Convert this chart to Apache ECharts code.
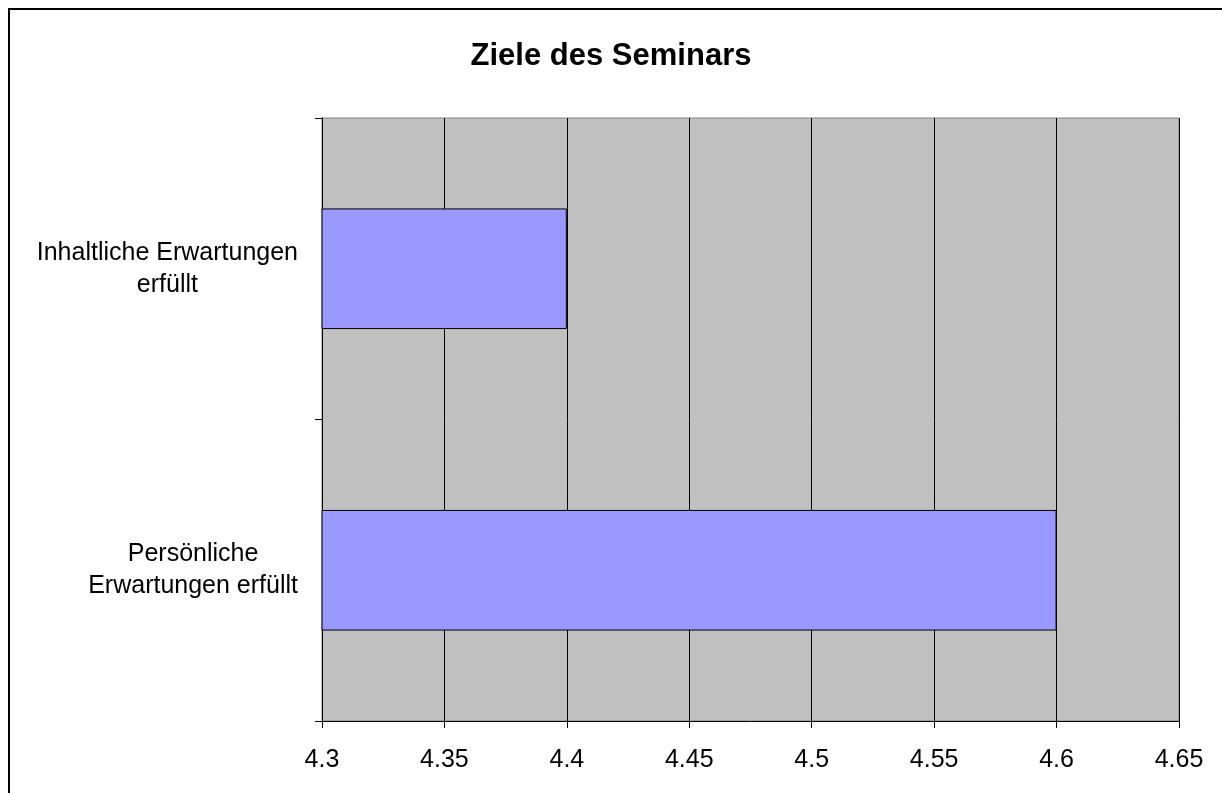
<!DOCTYPE html>
<html>
<head>
<meta charset="utf-8">
<script src="https://cdn.jsdelivr.net/npm/echarts@6/dist/echarts.min.js"></script>
<style>
html,body{margin:0;padding:0;background:#fff;}
#chart{position:absolute;left:0;top:0;width:1222px;height:793px;}
#frame{position:absolute;left:8px;top:8px;width:1230px;height:800px;border-left:2px solid #000;border-top:2px solid #000;pointer-events:none;}
</style>
</head>
<body>
<div id="chart"></div>
<div id="frame"></div>
<script>
const titleText = 'Ziele des Seminars';
// bottom-to-top order for ECharts category axis
const categories = ['Persönliche\nErwartungen erfüllt', 'Inhaltliche Erwartungen\nerfüllt'];
const values = [4.6, 4.4];
const xMin = 4.3, xMax = 4.65, xStep = 0.05;

const chart = echarts.init(document.getElementById('chart'), null, {renderer: 'canvas'});
const font = 'Liberation Sans, Arial, sans-serif';
chart.setOption({
  animation: false,
  title: {
    text: titleText, left: 'center', top: 36,
    textStyle: {fontFamily: font, fontSize: 31, fontWeight: 'bold', color: '#000'}
  },
  grid: {
    left: 322, right: 43, top: 118, bottom: 72,
    show: true, backgroundColor: '#C0C0C0', borderColor: '#808080', borderWidth: 1
  },
  xAxis: {
    type: 'value', min: xMin, max: xMax, interval: xStep,
    axisLine: {show: true, lineStyle: {color: '#000', width: 1}},
    axisTick: {show: true, length: 7, lineStyle: {color: '#000'}},
    splitLine: {show: true, lineStyle: {color: '#000', width: 1}},
    axisLabel: {
      fontFamily: font, fontSize: 25, color: '#000', margin: 27,
      formatter: v => String(+v.toFixed(2))
    }
  },
  yAxis: {
    type: 'category', data: categories,
    axisLine: {show: true, lineStyle: {color: '#000', width: 1}},
    axisTick: {show: true, length: 7, alignWithLabel: false, lineStyle: {color: '#000'}},
    splitLine: {show: false},
    axisLabel: {
      margin: 24, align: 'right', verticalAlign: 'middle',
      formatter: v => v.split('\n').map(s => '{c|' + s + '}').join('\n'),
      rich: {c: {fontFamily: font, fontSize: 25, color: '#000', align: 'center', lineHeight: 32}}
    }
  },
  series: [{
    type: 'bar', data: values, barWidth: '40%',
    itemStyle: {color: '#9999FF', borderColor: '#000', borderWidth: 1}
  }]
});
</script>
</body>
</html>
